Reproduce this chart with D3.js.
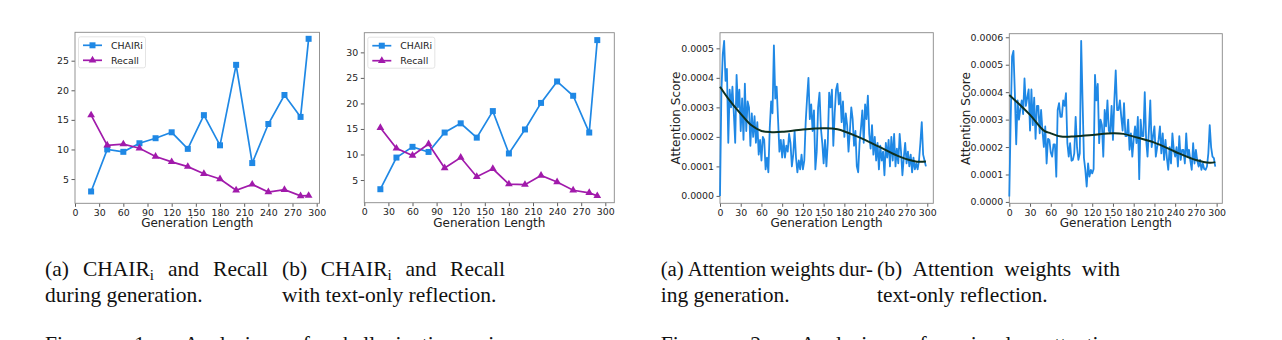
<!DOCTYPE html>
<html>
<head>
<meta charset="utf-8">
<script src="https://cdn.jsdelivr.net/npm/d3@7"></script>
<style>
  body { margin: 0; background: #fff; }
  svg { display: block; }
  .ax text { font-family: "DejaVu Sans", sans-serif; font-size: 9.4px; fill: #222; }
</style>
</head>
<body>
<svg id="fig" width="1282" height="340"></svg>
<script>
// generation lengths used in the CHAIRi / recall panels
const genLen = [20, 40, 60, 80, 100, 120, 140, 160, 180, 200, 220, 240, 260, 280, 290];
// (a) during generation
const chairA = [2.9, 10.0, 9.6, 11.05, 11.9, 12.9, 10.1, 15.8, 10.7, 24.3, 7.7, 14.3, 19.2, 15.5, 28.7];
const recallA = [15.8, 10.7, 10.9, 10.2, 8.8, 7.9, 7.1, 5.9, 5.0, 3.1, 4.1, 2.8, 3.2, 2.15, 2.2];
// (b) with text-only reflection
const chairB = [3.2, 9.4, 11.5, 10.5, 14.3, 16.1, 13.3, 18.5, 10.2, 14.9, 20.1, 24.3, 21.5, 14.3, 32.4];
const recallB = [15.25, 11.2, 9.8, 12.05, 7.35, 9.4, 5.65, 7.2, 4.2, 4.1, 5.9, 4.6, 3.0, 2.5, 1.9];

const xTicks = [0, 30, 60, 90, 120, 150, 180, 210, 240, 270, 300];
const yTicksA = [5, 10, 15, 20, 25];
const yTicksB = [5, 10, 15, 20, 25, 30];

// attention score, in units of 1e-4, read every 2nd token (0, 2, 4 ... 298)
const attnA = [
  0.0, 3.5, 4.8, 5.25, 3.9, 4.3, 1.8, 3.6, 3.0, 3.7, 2.8, 1.8, 4.1, 3.0, 3.6, 2.2, 3.3, 1.9, 3.8, 2.2,
  3.2, 3.0, 1.7, 2.8, 2.0, 2.7, 1.8, 2.5, 1.4, 1.9, 1.2, 2.0, 1.9, 0.9, 1.3, 0.8, 2.3, 3.2, 2.8, 5.1,
  3.3, 3.7, 2.6, 1.5, 1.9, 1.3, 1.9, 1.3, 1.7, 1.5, 2.1, 1.8, 1.0, 1.4, 2.2, 1.3, 0.8, 1.2, 0.9, 1.4,
  0.9, 1.2, 2.5, 3.3, 4.0, 2.6, 3.1, 2.2, 2.9, 0.9, 1.5, 3.0, 3.5, 2.3, 1.8, 1.1, 1.9, 1.0, 1.8, 3.5,
  3.0, 3.6, 1.7, 2.8, 3.6, 3.8, 3.1, 3.5, 2.5, 3.2, 2.0, 2.8, 2.4, 1.5, 2.2, 3.0, 2.6, 1.7, 2.2, 1.0,
  0.8, 1.8, 2.3, 2.9, 1.8, 3.1, 2.6, 3.4, 2.1, 1.6, 2.4, 1.4, 2.0, 1.2, 1.8, 0.9, 1.7, 1.2, 1.5, 0.7,
  1.8, 1.3, 1.9, 1.0, 2.0, 1.2, 2.1, 1.0, 1.6, 1.1, 2.1, 1.5, 0.7, 1.3, 1.8, 1.1, 1.5, 1.0, 1.4, 0.8,
  1.3, 0.9, 1.1, 0.9, 1.2, 1.8, 2.5, 1.4, 1.2, 1.0
];
const attnB = [
  0.2, 3.0, 5.3, 5.5, 4.0, 2.1, 3.7, 3.0, 3.4, 3.7, 3.2, 4.5, 3.5, 3.8, 4.1, 2.6, 4.1, 2.8, 3.8, 2.3,
  3.5, 3.5, 2.5, 3.35, 2.6, 2.0, 2.75, 1.4, 2.3, 2.26, 1.8, 1.65, 2.1, 2.1, 0.92, 3.35, 3.6, 3.1, 3.1, 3.7,
  3.5, 3.96, 2.14, 1.65, 2.14, 1.5, 1.53, 1.77, 3.1, 2.0, 1.53, 1.77, 5.87, 3.7, 1.6, 1.17, 0.56, 1.4, 0.92, 1.17,
  1.04, 1.2, 4.63, 3.7, 4.3, 2.14, 3.0, 2.8, 1.65, 3.35, 2.75, 3.7, 2.6, 2.5, 3.5, 2.26, 3.7, 4.79, 3.35, 3.35,
  3.7, 3.1, 2.6, 3.6, 2.4, 2.4, 3.0, 1.9, 2.5, 1.65, 2.3, 2.75, 2.14, 3.1, 0.83, 3.0, 2.4, 2.4, 4.0, 2.26,
  1.65, 2.6, 3.7, 2.0, 2.4, 2.75, 1.65, 2.0, 2.26, 2.75, 1.77, 2.5, 1.53, 2.26, 1.6, 1.17, 2.0, 1.4, 2.5, 1.9,
  1.65, 2.0, 1.29, 2.4, 1.53, 1.9, 1.9, 1.4, 2.5, 1.65, 1.9, 1.5, 1.17, 2.14, 1.4, 1.9, 1.5, 1.29, 1.53, 1.17,
  1.4, 1.2, 1.17, 1.29, 1.77, 2.8, 2.0, 1.65, 1.6, 1.29
];
// smooth trend curve
const fitStepsA = [0, 15, 30, 45, 60, 75, 90, 120, 150, 170, 200, 230, 260, 285, 298];
const fitA = [3.7, 3.2, 2.78, 2.4, 2.2, 2.16, 2.17, 2.25, 2.29, 2.26, 2.0, 1.67, 1.33, 1.16, 1.17];
const fitStepsB = [0, 30, 50, 60, 75, 90, 120, 150, 165, 180, 210, 240, 270, 290, 298];
const fitB = [3.9, 3.17, 2.6, 2.5, 2.38, 2.38, 2.44, 2.5, 2.48, 2.38, 2.16, 1.83, 1.53, 1.43, 1.45];

const attnTicksA = [0, 1, 2, 3, 4, 5];
const attnTicksB = [0, 1, 2, 3, 4, 5, 6];

const BLUE = "#1f88e5", PURPLE = "#a11aab", FIT = "#0e3020";
const svg = d3.select("#fig");

/* frame + axes for one panel, returns scales */
function panel(p) {
  const x = d3.scaleLinear().domain([0, p.xMax]).range([p.left, p.right]);
  const y = d3.scaleLinear().domain(p.yDom).range([p.bottom, p.top]);
  const g = svg.append("g");

  const xa = g.append("g").attr("class", "ax")
    .attr("transform", `translate(0,${p.bottom})`)
    .call(d3.axisBottom(x).tickValues(xTicks).tickSize(3.5).tickPadding(2.5));
  const ya = g.append("g").attr("class", "ax")
    .attr("transform", `translate(${p.left},0)`)
    .call(d3.axisLeft(y).tickValues(p.yTicks).tickSize(3.5).tickPadding(2.5).tickFormat(p.fmt || (d => d)));
  [xa, ya].forEach(a => {
    a.select(".domain").remove();
    a.selectAll("line").attr("stroke", "#333").attr("stroke-width", 0.8);
  });

  g.append("rect")
    .attr("x", p.left).attr("y", p.top)
    .attr("width", p.right - p.left).attr("height", p.bottom - p.top)
    .attr("fill", "none").attr("stroke", "#888").attr("stroke-width", 0.9);

  g.append("text")
    .attr("x", (p.left + p.right) / 2).attr("y", 227)
    .attr("text-anchor", "middle")
    .style("font-family", "DejaVu Sans, sans-serif").style("font-size", "12px").attr("fill", "#222")
    .text("Generation Length");

  if (p.yLabelX) {
    g.append("text")
      .attr("transform", `translate(${p.yLabelX},${(p.top + p.bottom) / 2}) rotate(-90)`)
      .attr("text-anchor", "middle")
      .style("font-family", "DejaVu Sans, sans-serif").style("font-size", "12px").attr("fill", "#222")
      .text("Attention Score");
  }
  return { x, y, g };
}

const sq = d3.symbol(d3.symbolSquare, 36);
const tri = d3.symbol(d3.symbolTriangle, 26);

function chairPanel(p, chair, recall) {
  const { x, y, g } = panel(p);
  const line = d3.line().x((d, i) => x(genLen[i])).y(d => y(d));
  const series = [
    { name: "CHAIRi", vals: chair, col: BLUE, sym: sq },
    { name: "Recall", vals: recall, col: PURPLE, sym: tri }
  ];
  series.forEach(s => {
    g.append("path").attr("d", line(s.vals))
      .attr("fill", "none").attr("stroke", s.col).attr("stroke-width", 1.7);
    g.selectAll(null).data(s.vals).join("path")
      .attr("transform", (d, i) => `translate(${x(genLen[i])},${y(d)})`)
      .attr("d", s.sym).attr("fill", s.col);
  });

  // legend
  const lx = p.left + 3.5, ly = p.top + 4.5;
  const lg = g.append("g");
  lg.append("rect").attr("x", lx).attr("y", ly).attr("width", 67).attr("height", 31)
    .attr("rx", 2).attr("fill", "#fff").attr("stroke", "#ddd").attr("stroke-width", 0.8);
  series.forEach((s, i) => {
    const cy = ly + 8.5 + i * 15;
    lg.append("line").attr("x1", lx + 4.5).attr("x2", lx + 23.5).attr("y1", cy).attr("y2", cy)
      .attr("stroke", s.col).attr("stroke-width", 1.7);
    lg.append("path").attr("transform", `translate(${lx + 14},${cy})`).attr("d", s.sym).attr("fill", s.col);
    lg.append("text").attr("x", lx + 32.5).attr("y", cy + 3.4)
      .style("font-family", "DejaVu Sans, sans-serif").style("font-size", "9.4px").attr("fill", "#222")
      .text(s.name);
  });
}

function attnPanel(p, vals, fitSteps, fit) {
  const { x, y, g } = panel(p);
  const steps = d3.range(0, vals.length * 2, 2);
  g.append("path")
    .attr("d", d3.line().x((d, i) => x(steps[i])).y(d => y(d))(vals))
    .attr("fill", "none").attr("stroke", BLUE).attr("stroke-width", 1.8).attr("stroke-linejoin", "round");
  g.append("path")
    .attr("d", d3.line().curve(d3.curveCatmullRom).x((d, i) => x(fitSteps[i])).y(d => y(d))(fit))
    .attr("fill", "none").attr("stroke", FIT).attr("stroke-width", 2);
}

chairPanel({ left: 75, right: 319.5, top: 32.3, bottom: 203.3, xMax: 303.5, yDom: [0.9, 29.8], yTicks: yTicksA },
  chairA, recallA);
chairPanel({ left: 364.3, right: 614.3, top: 32.7, bottom: 202.7, xMax: 311.2, yDom: [0.56, 33.85], yTicks: yTicksB },
  chairB, recallB);

const fmtAttn = d => (d * 1e-4).toFixed(4);
attnPanel({ left: 720, right: 933.3, top: 32.7, bottom: 203.3, xMax: 308.7, yDom: [-0.25, 5.53],
  yTicks: attnTicksA, fmt: fmtAttn, yLabelX: 679.5 }, attnA, fitStepsA, fitA);
attnPanel({ left: 1009.3, right: 1222.3, top: 33.7, bottom: 203.3, xMax: 308.2, yDom: [-0.05, 6.13],
  yTicks: attnTicksB, fmt: fmtAttn, yLabelX: 969.5 }, attnB, fitStepsB, fitB);

/* captions, Times-like serif, first lines justified between x0 and x1 */
const CAP = 21.5;
function capLine(words, x0, y, x1, size) {
  const fs = size || CAP;
  const items = words.map(w => {
    const t = svg.append("text").attr("y", y)
      .style("font-family", "Liberation Serif, Times New Roman, serif").style("font-size", fs + "px").attr("fill", "#111");
    if (Array.isArray(w)) {
      t.append("tspan").text(w[0]);
      t.append("tspan").attr("dy", 4).style("font-size", (fs * 0.7) + "px").text(w[1]);
    } else t.text(w);
    return { t, w: t.node().getComputedTextLength() };
  });
  const total = d3.sum(items, d => d.w);
  const gap = x1 ? Math.max(3, (x1 - x0 - total) / (items.length - 1)) : fs * 0.25;
  let cx = x0;
  items.forEach(d => { d.t.attr("x", cx); cx += d.w + gap; });
}

capLine(["(a)", ["CHAIR", "i"], "and", "Recall"], 45, 276, 268);
capLine(["during", "generation."], 45, 302);
capLine(["(b)", ["CHAIR", "i"], "and", "Recall"], 282, 276, 505);
capLine(["with", "text-only", "reflection."], 282, 302);
capLine(["(a)", "Attention", "weights", "dur-"], 660.7, 276, 873, 20.8);
capLine(["ing", "generation."], 660.7, 302);
capLine(["(b)", "Attention", "weights", "with"], 877, 276, 1120);
capLine(["text-only", "reflection."], 877, 302);
// next paragraph, only the top of its first line is in view
capLine(["Figure", "1:", "Analysis", "of", "hallucination", "in"], 45, 351, 505);
capLine(["Figure", "2:", "Analysis", "of", "visual", "attention"], 660.7, 351, 1120);
</script>
</body>
</html>
